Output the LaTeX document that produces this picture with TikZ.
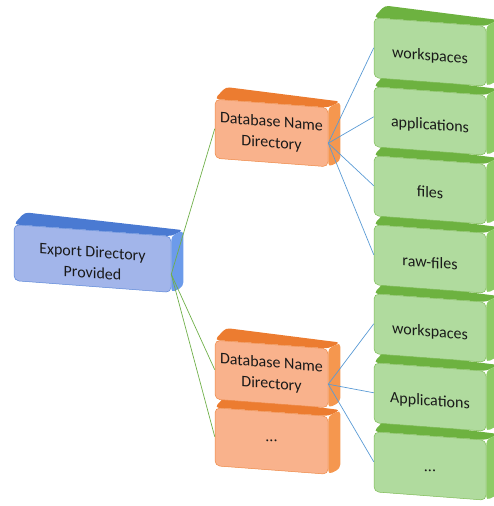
\documentclass[tikz,border=0pt]{standalone}
\usepackage{fontspec}
\setmainfont{Carlito}
\usetikzlibrary{calc}
\pgfdeclarelayer{back}
\pgfsetlayers{back,main}

% palette
\definecolor{bluefront}{HTML}{A2B5EA}
\definecolor{blueedge}{HTML}{5A86D8}
\definecolor{bluetopc}{HTML}{4A7AD2}
\definecolor{bluesidec}{HTML}{6C9BEA}
\definecolor{orangefront}{HTML}{F9B28C}
\definecolor{orangeedge}{HTML}{EE8844}
\definecolor{orangetopc}{HTML}{EC7C30}
\definecolor{orangesidec}{HTML}{F5974F}
\definecolor{greenfront}{HTML}{B0DB9E}
\definecolor{greenedge}{HTML}{7DBB55}
\definecolor{greentopc}{HTML}{6DB240}
\definecolor{greensidec}{HTML}{8DCB66}
\definecolor{glink}{HTML}{70B04A}
\definecolor{blink}{HTML}{5B9BD5}

\tikzset{
  front/.style={rounded corners=5pt, line width=0.5pt, inner sep=0pt},
  label text/.style={inner sep=0pt, align=center, text=black!90,
    font=\fontsize{16}{21}\selectfont},
  bluebox/.style={front, fill=bluefront, draw=blueedge},
  orangebox/.style={front, fill=orangefront, draw=orangeedge},
  greenbox/.style={front, fill=greenfront, draw=greenedge},
  bluetop/.style={fill=bluetopc, rounded corners=4pt},
  blueside/.style={fill=bluesidec, rounded corners=4pt},
  orangetop/.style={fill=orangetopc, rounded corners=4pt},
  orangeside/.style={fill=orangesidec, rounded corners=4pt},
  greentop/.style={fill=greentopc, rounded corners=4pt},
  greenside/.style={fill=greensidec, rounded corners=4pt},
  glinkstyle/.style={draw=glink, line width=0.7pt},
  blinkstyle/.style={draw=blink, line width=0.7pt},
}

% #1 name, #2 x, #3 y, #4 width, #5 height, #6 colour family, #7 text,
% #8 downward offset of the text inside the front face
\newcommand\solidbox[8]{%
  \begin{scope}[shift={(#2,#3)}, yslant=-0.075]
    \node[#6box, transform shape, minimum width=#4pt, minimum height=#5pt] (#1) at (0,0) {};
    \node[label text, transform shape] (#1-text) at (0,#8) {#7};
  \end{scope}
  \begin{pgfonlayer}{back}
    \path[#6top] (#1.north west) -- ++(11,-12) -- ($(#1.north east)+(12,-6)$)
      -- (#1.north east) -- cycle;
    \path[#6side] (#1.north east) -- ++(12,-6) -- ($(#1.south east)+(12,-6)$)
      -- (#1.south east) -- cycle;
  \end{pgfonlayer}
}

\begin{document}
\begin{tikzpicture}[x=1pt, y=-1pt]
\useasboundingbox (0,0) rectangle (494,506);

\solidbox{exp}{92.5}{258.5}{157}{56}{blue}{Export Directory\\Provided}{4}

\solidbox{db1}{271.5}{133}{113}{59}{orange}{Database Name\\Directory}{0}
\solidbox{db2}{271.5}{374}{113}{59}{orange}{Database Name\\Directory}{0}
\solidbox{db3}{271.5}{441}{113}{58}{orange}{...}{0}

\solidbox{w1}{430}{52}{112}{60}{green}{workspaces}{4.5}
\solidbox{a1}{430}{121}{112}{60}{green}{applications}{4.5}
\solidbox{f1}{430}{190}{112}{60}{green}{files}{2}
\solidbox{r1}{430}{259}{112}{60}{green}{raw-files}{3.5}
\solidbox{w2}{430}{328}{112}{60}{green}{workspaces}{4.5}
\solidbox{a2}{430}{397}{112}{60}{green}{Applications}{4.5}
\solidbox{e2}{430}{466}{112}{60}{green}{...}{5}

% connector hubs on the right edges
\coordinate (expout) at ($(exp.east)!0.35!(exp.south east)$);
\coordinate (db1out) at ($(db1.east)!0.2!(db1.south east)$);
\coordinate (db2out) at ($(db2.east)!0.2!(db2.south east)$);

\draw[glinkstyle] (expout) -- (db1.west);
\draw[glinkstyle] (expout) -- (db2.west);
\draw[glinkstyle] (expout) -- (db3.west);

\draw[blinkstyle] (db1out) -- (w1.west);
\draw[blinkstyle] (db1out) -- (a1.west);
\draw[blinkstyle] (db1out) -- (f1.west);
\draw[blinkstyle] (db1out) -- (r1.west);

\draw[blinkstyle] (db2out) -- (w2.west);
\draw[blinkstyle] (db2out) -- (a2.west);
\draw[blinkstyle] (db2out) -- (e2.west);
\end{tikzpicture}
\end{document}
